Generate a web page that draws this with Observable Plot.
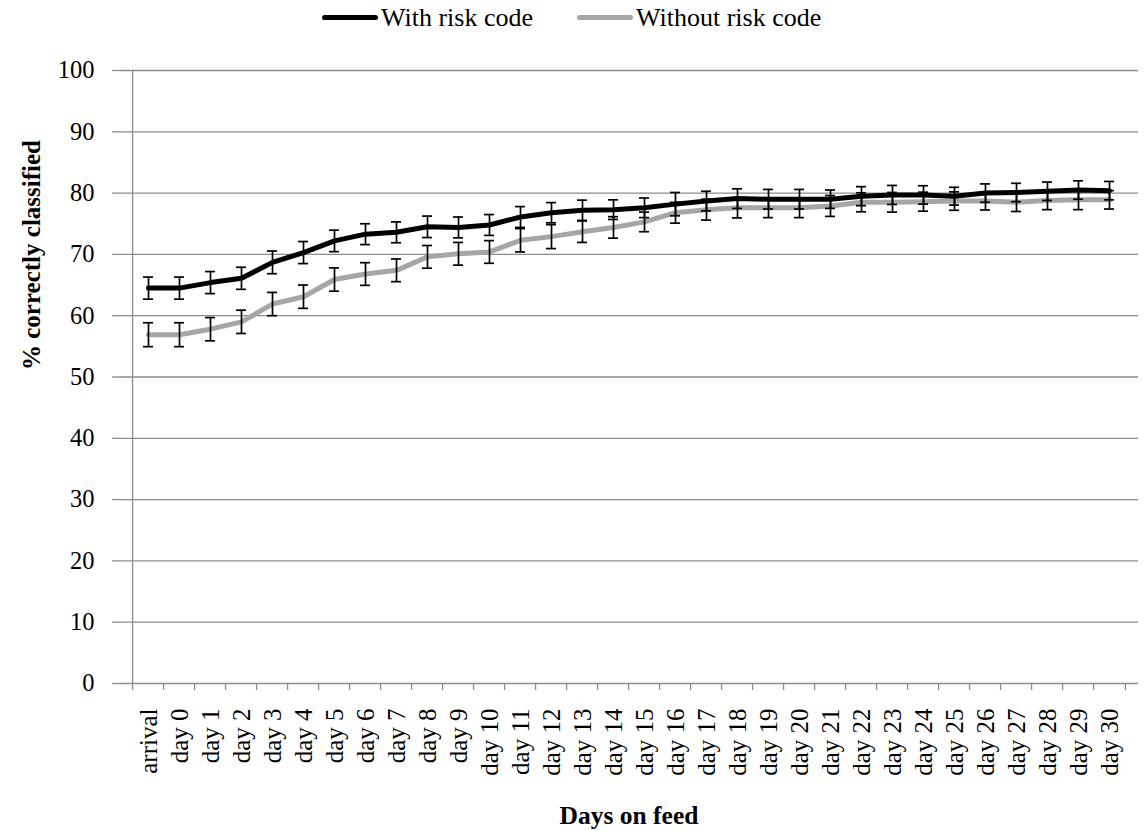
<!DOCTYPE html>
<html>
<head>
<meta charset="utf-8">
<script src="https://cdn.jsdelivr.net/npm/d3@7"></script>
<script src="https://cdn.jsdelivr.net/npm/@observablehq/plot@0.6"></script>
<style>
  html, body { margin: 0; padding: 0; background: #fff; }
  #wrap { width: 1145px; }
  #legend { position: relative; width: 1145px; height: 40px; font-family: "Liberation Serif", "Times New Roman", serif; font-size: 26px; color: #000; }
  #legend .sw { position: absolute; top: 15px; width: 56px; height: 5px; border-radius: 3px; }
  #legend .lb { position: absolute; top: 5px; line-height: 1; white-space: nowrap; }
</style>
</head>
<body>
<div id="wrap">
  <div id="legend"></div>
  <div id="chart"></div>
</div>
<script>
const categories = ["arrival","day 0","day 1","day 2","day 3","day 4","day 5","day 6","day 7","day 8","day 9","day 10","day 11","day 12","day 13","day 14","day 15","day 16","day 17","day 18","day 19","day 20","day 21","day 22","day 23","day 24","day 25","day 26","day 27","day 28","day 29","day 30"];
const withRisk = [64.5,64.5,65.4,66.1,68.7,70.3,72.2,73.3,73.6,74.5,74.4,74.8,76.1,76.8,77.2,77.3,77.6,78.2,78.7,79.1,79.0,79.0,79.0,79.5,79.7,79.7,79.5,80.0,80.1,80.3,80.5,80.4];
const withRiskErr = [1.8,1.8,1.8,1.8,1.85,1.8,1.75,1.7,1.7,1.75,1.7,1.7,1.7,1.65,1.65,1.6,1.6,1.9,1.6,1.6,1.6,1.6,1.5,1.55,1.55,1.5,1.45,1.5,1.5,1.5,1.5,1.5];
const withoutRisk = [56.9,56.9,57.8,59.0,61.9,63.1,65.9,66.8,67.4,69.6,70.1,70.4,72.3,72.9,73.7,74.4,75.3,76.8,77.3,77.6,77.6,77.6,77.9,78.5,78.5,78.6,78.7,78.7,78.5,78.8,78.9,78.9];
const withoutRiskErr = [1.95,1.95,1.9,1.9,1.9,1.9,1.9,1.85,1.85,1.85,1.85,1.85,1.9,1.95,1.75,1.75,1.6,1.7,1.7,1.65,1.6,1.6,1.7,1.55,1.6,1.55,1.5,1.45,1.5,1.5,1.6,1.5];
const seriesNames = ["With risk code", "Without risk code"];
const seriesColors = ["#000000", "#a6a6a6"];
const yTicks = [0,10,20,30,40,50,60,70,80,90,100];
const xTitle = "Days on feed";
const yTitle = "% correctly classified";

const rows = [];
categories.forEach((c, i) => {
  rows.push({cat: c, series: seriesNames[0], v: withRisk[i], e: withRiskErr[i]});
  rows.push({cat: c, series: seriesNames[1], v: withoutRisk[i], e: withoutRiskErr[i]});
});

// legend (HTML, above the SVG)
const legend = document.getElementById("legend");
const legendPos = [{sw: 322, lb: 381}, {sw: 577, lb: 636}];
seriesNames.forEach((name, i) => {
  const sw = document.createElement("span");
  sw.className = "sw";
  sw.style.left = legendPos[i].sw + "px";
  sw.style.background = seriesColors[i];
  legend.appendChild(sw);
  const lb = document.createElement("span");
  lb.className = "lb";
  lb.style.left = legendPos[i].lb + "px";
  lb.textContent = name;
  legend.appendChild(lb);
});

const W = 1145, H = 791;
const mL = 119, mR = 7, mT = 30, mB = 148;
const bw = (W - mL - mR) / categories.length;
const grid = "#8c8c8c";
const font = "Liberation Serif, Times New Roman, serif";

const chart = Plot.plot({
  width: W,
  height: H,
  marginLeft: mL,
  marginRight: mR,
  marginTop: mT,
  marginBottom: mB,
  style: {fontFamily: font, fontSize: "25px", color: "#000", background: "#fff", overflow: "visible"},
  x: {type: "point", domain: categories, padding: 0.5},
  y: {domain: [0, 100]},
  marks: [
    Plot.ruleY(yTicks, {stroke: grid, strokeWidth: 1.3}),
    Plot.ruleX([categories[0]], {dx: -bw / 2, stroke: grid, strokeWidth: 1.3}),
    Plot.axisY({ticks: yTicks, tickSize: 7, tickFormat: () => "", stroke: grid, strokeWidth: 1.3, label: null}),
    Plot.axisY({ticks: yTicks, tickSize: 0, tickPadding: 25, fontSize: 24.5, fontFamily: font, fontVariant: "normal", fill: "#000", label: null}),
    Plot.axisX({tickSize: 7, tickFormat: () => "", dx: -bw / 2, stroke: grid, strokeWidth: 1.3, label: null}),
    Plot.axisX({ticks: [categories[categories.length - 1]], tickSize: 7, tickFormat: () => "", dx: bw / 2, stroke: grid, strokeWidth: 1.3, label: null}),
    Plot.axisX({tickSize: 0, tickPadding: 25, tickRotate: -90, fontSize: 25, fontFamily: font, fill: "#000", label: null}),
    Plot.line(rows.filter(d => d.series === seriesNames[1]), {x: "cat", y: "v", stroke: seriesColors[1], strokeWidth: 5, strokeLinejoin: "round"}),
    Plot.line(rows.filter(d => d.series === seriesNames[0]), {x: "cat", y: "v", stroke: seriesColors[0], strokeWidth: 5, strokeLinejoin: "round"}),
    Plot.ruleX(rows, {x: "cat", y1: d => d.v - d.e, y2: d => d.v + d.e, stroke: "#000", strokeWidth: 1.7}),
    Plot.ruleY(rows, {y: d => d.v + d.e, x1: "cat", x2: "cat", insetLeft: -5, insetRight: -5, stroke: "#000", strokeWidth: 1.7}),
    Plot.ruleY(rows, {y: d => d.v - d.e, x1: "cat", x2: "cat", insetLeft: -5, insetRight: -5, stroke: "#000", strokeWidth: 1.7}),
    Plot.text([yTitle], {text: d => d, frameAnchor: "left", rotate: -90, dx: -88, dy: -7, fontWeight: "bold", fontSize: 25, fontFamily: font, fill: "#000", lineAnchor: "middle"}),
    Plot.text([xTitle], {text: d => d, frameAnchor: "bottom", dy: 132, fontWeight: "bold", fontSize: 25.5, fontFamily: font, fill: "#000", lineAnchor: "middle"})
  ]
});
document.getElementById("chart").appendChild(chart);
</script>
</body>
</html>
